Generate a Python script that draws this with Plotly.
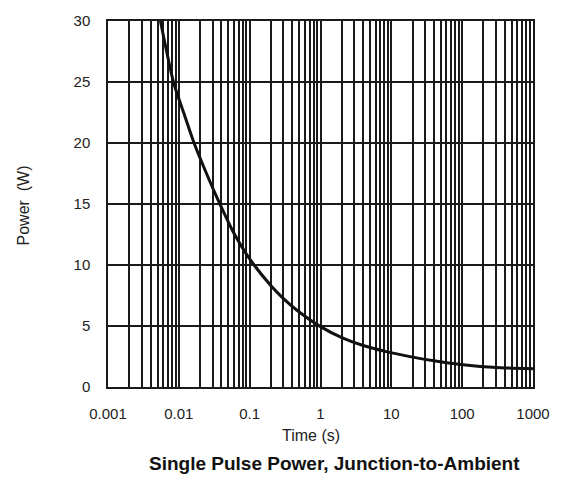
import plotly.graph_objects as go

# Single pulse power curve (time in seconds, power in watts)
time_s = [0.0055, 0.0084, 0.012, 0.0164, 0.025, 0.036, 0.06, 0.1, 0.2, 0.3, 0.5, 1.0,
          2.0, 4.0, 8.5, 20, 40, 95, 350, 1000]
power_w = [30.0, 25.0, 22.3, 20.0, 17.4, 15.3, 12.6, 10.5, 8.3, 7.25, 6.15, 4.95,
           4.05, 3.4, 2.9, 2.45, 2.15, 1.85, 1.58, 1.5]

x_tickvals = [0.001, 0.01, 0.1, 1, 10, 100, 1000]
x_ticktext = ["0.001", "0.01", "0.1", "1", "10", "100", "1000"]
y_tickvals = [0, 5, 10, 15, 20, 25, 30]

FONT = "Liberation Sans, Arial, sans-serif"
L, R, T, B = 108, 29, 12, 92
W, H = 562, 479
PW, PH = W - L - R, H - T - B

fig = go.Figure()
fig.add_trace(go.Scatter(
    x=time_s, y=power_w, mode="lines",
    line=dict(color="#111111", width=3, shape="spline", smoothing=0.7),
    hoverinfo="skip", showlegend=False,
))

fig.update_layout(
    width=W, height=H,
    margin=dict(l=L, r=R, t=T, b=B, pad=0),
    paper_bgcolor="white", plot_bgcolor="white",
    font=dict(family=FONT, size=15, color="#222222"),
    xaxis=dict(
        type="log", range=[-3, 3],
        tickvals=x_tickvals, ticktext=x_ticktext,
        showgrid=True, gridcolor="#1a1a1a", gridwidth=1.5,
        minor=dict(dtick="D1", showgrid=True, gridcolor="#1a1a1a", gridwidth=1.5, ticks=""),
        showline=True, linecolor="#1a1a1a", linewidth=1.5, mirror=True,
        ticks="", ticklabelstandoff=12, zeroline=False,
    ),
    yaxis=dict(
        range=[0, 30], tickvals=y_tickvals,
        showgrid=True, gridcolor="#1a1a1a", gridwidth=1.5,
        showline=True, linecolor="#1a1a1a", linewidth=1.5, mirror=True,
        ticks="", ticklabelstandoff=13, zeroline=False,
    ),
)


def px_x(px):
    return (px - L) / PW


def px_y(py):
    return (H - B - py) / PH


fig.add_annotation(text="Time (s)", x=px_x(311), y=px_y(437), xref="paper", yref="paper",
                   showarrow=False, xanchor="center", yanchor="middle",
                   font=dict(family=FONT, size=16, color="#222222"))
fig.add_annotation(text="Power  (W)", x=px_x(23), y=px_y(201), xref="paper", yref="paper",
                   showarrow=False, xanchor="center", yanchor="middle", textangle=-90,
                   font=dict(family=FONT, size=16, color="#222222"))
fig.add_annotation(text="<b>Single Pulse Power, Junction-to-Ambient</b>",
                   x=px_x(334), y=px_y(465), xref="paper", yref="paper",
                   showarrow=False, xanchor="center", yanchor="middle",
                   font=dict(family=FONT, size=19, color="#111111"))

fig.write_html("out.html")
